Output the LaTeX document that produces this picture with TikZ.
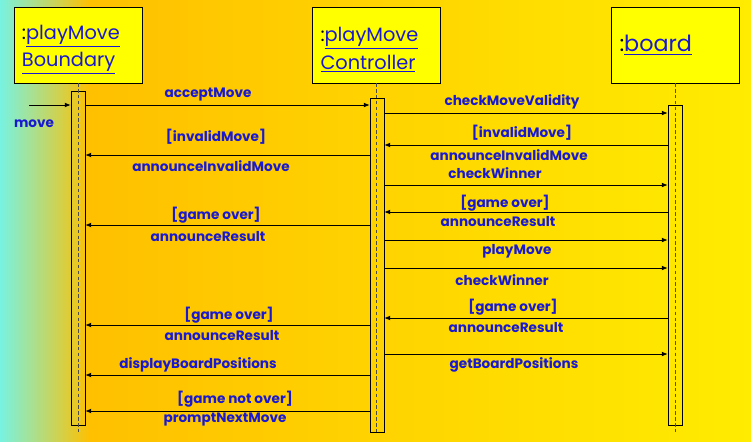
\documentclass[tikz,border=0pt]{standalone}
\usepackage{fontspec}
\setmainfont{Poppins}
\usetikzlibrary{arrows.meta}
\definecolor{msgblue}{RGB}{25,25,210}
\definecolor{aqua}{RGB}{120,242,225}
\definecolor{amber}{RGB}{255,192,0}
\definecolor{lemon}{RGB}{255,236,0}
\definecolor{boxyellow}{RGB}{255,255,0}
\tikzset{
  objbox/.style={draw=black, fill=boxyellow, minimum width=3.84cm, minimum height=2.28cm,
    text width=3.36cm, align=left, text=msgblue, inner sep=0pt,
    font=\fontsize{16.5}{20.5}\selectfont},
  actbar/.style={draw=black, line width=0.5pt, minimum width=0.42cm, inner sep=0pt},
  lifeline/.style={densely dashed, line width=0.5pt, draw=black!70},
  msg/.style={-{Latex[length=5pt,width=4pt]}, line width=0.6pt},
  lbl/.style={text=msgblue, inner sep=0pt, font=\bfseries\fontsize{11.6}{13}\selectfont}
}
\begin{document}
\begin{tikzpicture}[x=0.03cm, y=-0.03cm]
  % background
  \useasboundingbox (0,0) rectangle (751,441);
  \shade[left color=amber, right color=lemon] (90,0) rectangle (751,441);
  \shade[left color=aqua, right color=amber] (0,0) rectangle (90,441);

  % objects
  \node[objbox] (obj1) at (78,45) {\rule{0pt}{20pt}\textcolor{black}{:}\underline{playMove}\\[3pt]\underline{Boundary}};
  \node[objbox] (obj2) at (376.5,45) {\rule{0pt}{20pt}\textcolor{black}{:}\underline{playMove}\\[3pt]\underline{Controller}};
  \node[objbox, font=\fontsize{19}{22}\selectfont] (obj3) at (675.5,45) {\textcolor{black}{:}\underline{board}};

  % activation bars
  \node[actbar, minimum height=10.02cm] (bar1) at (78,258) {};
  \node[actbar, minimum height=10.02cm] (bar2) at (377,265) {};
  \node[actbar, minimum height=9.6cm] (bar3) at (675,265) {};

  % lifelines
  \coordinate (bot) at (0,432);
  \draw[lifeline] (obj1.south) -- (obj1.south |- bot);
  \draw[lifeline] (obj2.south) -- (obj2.south |- bot);
  \draw[lifeline] (obj3.south) -- (obj3.south |- bot);

  % messages
  \coordinate (movein) at (29,105);
  \draw[msg] (movein) -- (bar1.west |- movein);
  \foreach \y/\a/\b in {105/bar1.east/bar2.west, 113/bar2.east/bar3.west,
      145/bar3.west/bar2.east, 155/bar2.west/bar1.east, 185/bar2.east/bar3.west,
      212/bar3.west/bar2.east, 225/bar2.west/bar1.east, 240/bar2.east/bar3.west,
      268/bar2.east/bar3.west, 318/bar3.west/bar2.east, 325/bar2.west/bar1.east,
      354/bar2.east/bar3.west, 375/bar2.west/bar1.east, 411/bar2.west/bar1.east}{
    \coordinate (row) at (0,\y);
    \draw[msg] (\a |- row) -- (\b |- row);
  }

  % labels
  \node[lbl] (lmove) at (34,124) {move};
  \node[lbl] (l1) at (208,95) {acceptMove};
  \node[lbl] (l2) at (512,102) {checkMoveValidity};
  \node[lbl] (l3) at (522,133) {[invalidMove]};
  \node[lbl] (l3b) at (509,155) {announceInvalidMove};
  \node[lbl] (l4) at (216,137) {[invalidMove]};
  \node[lbl] (l4b) at (211,166) {announceInvalidMove};
  \node[lbl] (l5) at (495,173) {checkWinner};
  \node[lbl] (l6) at (505,203) {[game over]};
  \node[lbl] (l6b) at (498,222) {announceResult};
  \node[lbl] (l7) at (216,215) {[game over]};
  \node[lbl] (l7b) at (208,237) {announceResult};
  \node[lbl] (l8) at (517,251) {playMove};
  \node[lbl] (l9) at (502,280) {checkWinner};
  \node[lbl] (l10) at (513,307) {[game over]};
  \node[lbl] (l10b) at (506,328) {announceResult};
  \node[lbl] (l11) at (229,315) {[game over]};
  \node[lbl] (l11b) at (222,336) {announceResult};
  \node[lbl] (l12) at (514,365) {getBoardPositions};
  \node[lbl] (l13) at (198,365) {displayBoardPositions};
  \node[lbl] (l14) at (235,399) {[game not over]};
  \node[lbl] (l14b) at (225,420) {promptNextMove};
\end{tikzpicture}
\end{document}
